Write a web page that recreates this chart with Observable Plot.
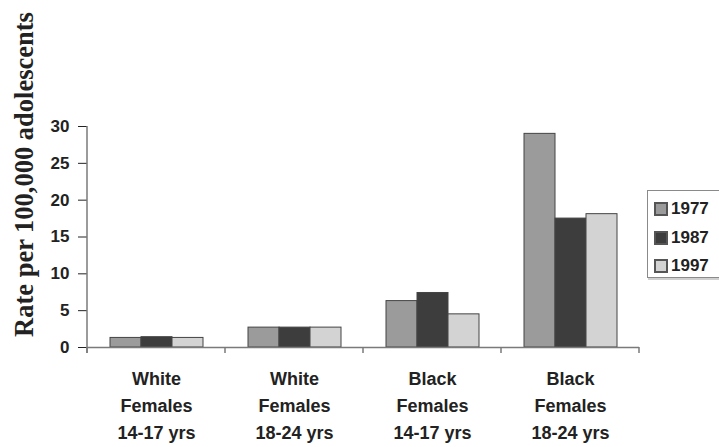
<!DOCTYPE html>
<html><head><meta charset="utf-8">
<script src="https://cdn.jsdelivr.net/npm/d3@7"></script>
<script src="https://cdn.jsdelivr.net/npm/@observablehq/plot@0.6"></script>
<style>
body{margin:0;background:#fff;}
#wrap{position:relative;width:719px;height:447px;overflow:hidden;background:#fff;}
#legend{position:absolute;left:647px;top:190px;width:100px;height:88px;border:1px solid #8a8a8a;border-right:none;box-shadow:1px 2px 0 #cfcfcf;background:#fff;padding:4px 0 0 7px;box-sizing:border-box;}
.lg-swatches{font:bold 17px 'Liberation Sans', Arial, sans-serif !important;color:#222 !important;margin:0 !important;}
.lg-swatch{height:28.5px !important;padding:0 !important;display:flex !important;align-items:center !important;}
.lg-swatch svg{margin-right:4px !important;}
.lg-swatch svg rect{stroke:#555;stroke-width:2px;}
</style></head>
<body><div id="wrap"><div id="legend"></div></div>
<script>
const groups = ["White\nFemales\n14-17 yrs", "White\nFemales\n18-24 yrs", "Black\nFemales\n14-17 yrs", "Black\nFemales\n18-24 yrs"];
const years = ["1977", "1987", "1997"];
const rate1977 = [1.3, 2.7, 6.3, 29.0];
const rate1987 = [1.4, 2.7, 7.4, 17.5];
const rate1997 = [1.3, 2.7, 4.5, 18.1];
const yTicks = [0, 5, 10, 15, 20, 25, 30];
const yTitle = "Rate per 100,000 adolescents";
const colors = ["#9b9b9b", "#3d3d3d", "#d3d3d3"];

const series = [rate1977, rate1987, rate1997];
const data = groups.flatMap((g, i) => years.map((yr, j) => ({group: g, year: yr, rate: series[j][i]})));

const chart = Plot.plot({
  width: 719, height: 447,
  marginLeft: 87, marginRight: 80, marginTop: 126, marginBottom: 100,
  style: {fontFamily: "'Liberation Sans', Arial, sans-serif", fontWeight: "bold", fontSize: "17px", color: "#222", background: "#fff"},
  fx: {domain: groups, padding: 0, label: null},
  x: {domain: years, paddingInner: 0, paddingOuter: 0.68, axis: null},
  y: {domain: [0, 30], label: null},
  color: {domain: years, range: colors},
  marks: [
    Plot.barY(data, {fx: "group", x: "year", y: "rate", fill: "year", stroke: "#444", strokeWidth: 1}),
    Plot.ruleY([0], {stroke: "#7a7a7a", strokeWidth: 1.5}),
    Plot.axisY({ticks: yTicks, tickSize: 9, tickPadding: 9, fontSize: 17, fontWeight: "bold", label: null}),
    Plot.axisFx({anchor: "bottom", tickSize: 0, tickPadding: 18, fontSize: 18, fontWeight: "bold", lineHeight: 1.5, label: null})
  ]
});

const svg = d3.select(chart);
svg.selectAll('g[aria-label="y-axis tick"]').attr("stroke", "#7a7a7a");
const fx = chart.scale("fx");
const y = chart.scale("y");
const x0 = fx.apply(groups[0]);
const bounds = groups.map(g => fx.apply(g)).concat([fx.apply(groups[groups.length - 1]) + fx.bandwidth]);
const g = svg.append("g").attr("stroke", "#7a7a7a").attr("stroke-width", 1.5);
g.append("line").attr("x1", x0).attr("x2", x0).attr("y1", y.apply(30)).attr("y2", y.apply(0) + 6);
bounds.forEach(b => g.append("line").attr("x1", b).attr("x2", b).attr("y1", y.apply(0)).attr("y2", y.apply(0) + 6));
svg.append("text")
  .attr("transform", "translate(33,174.5) rotate(-90)")
  .attr("text-anchor", "middle")
  .attr("font-family", "'Liberation Serif', 'Times New Roman', serif")
  .attr("font-weight", "bold")
  .attr("font-size", 26.5)
  .attr("fill", "#222")
  .text(yTitle);

document.getElementById("wrap").prepend(chart);
const leg = chart.legend("color", {columns: 1, className: "lg", swatchSize: 12});
document.getElementById("legend").appendChild(leg);
</script>
</body></html>
